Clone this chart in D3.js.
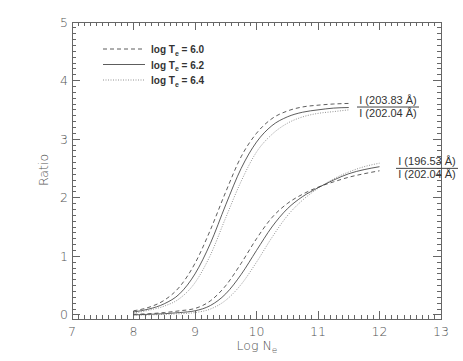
<!DOCTYPE html>
<html>
<head>
<meta charset="utf-8">
<script src="https://cdn.jsdelivr.net/npm/d3@7/dist/d3.min.js"></script>
<style>
  body { margin: 0; background: #fff; }
  text { font-family: "Liberation Sans", Arial, sans-serif; fill: #333; }
  .thin { font-family: "DejaVu Sans", sans-serif; font-weight: 200; fill: #555; }
</style>
</head>
<body>
<div id="chart"></div>
<script>
// DATA
const logNeUpper = [8.0, 8.25, 8.5, 8.75, 9.0, 9.25, 9.5, 9.75, 10.0, 10.25, 10.5, 10.75, 11.0, 11.25, 11.5];
const upperT60 = [0.07, 0.13, 0.25, 0.48, 0.88, 1.45, 2.10, 2.70, 3.10, 3.35, 3.48, 3.55, 3.58, 3.60, 3.61];
const upperT62 = [0.05, 0.10, 0.19, 0.36, 0.70, 1.22, 1.88, 2.50, 2.95, 3.23, 3.38, 3.46, 3.50, 3.53, 3.54];
const upperT64 = [0.03, 0.08, 0.15, 0.28, 0.55, 1.02, 1.66, 2.28, 2.78, 3.08, 3.27, 3.38, 3.44, 3.47, 3.50];

const logNeLower = [8.0, 8.25, 8.5, 8.75, 9.0, 9.25, 9.5, 9.75, 10.0, 10.25, 10.5, 10.75, 11.0, 11.25, 11.5, 11.75, 12.0];
const lowerT60 = [0.01, 0.02, 0.04, 0.07, 0.11, 0.24, 0.50, 0.88, 1.30, 1.66, 1.90, 2.06, 2.18, 2.27, 2.35, 2.41, 2.46];
const lowerT62 = [0.00, 0.01, 0.02, 0.04, 0.07, 0.16, 0.36, 0.69, 1.10, 1.50, 1.81, 2.02, 2.17, 2.30, 2.41, 2.48, 2.53];
const lowerT64 = [0.00, 0.00, 0.01, 0.02, 0.04, 0.10, 0.25, 0.52, 0.90, 1.32, 1.69, 1.96, 2.16, 2.32, 2.44, 2.53, 2.59];

const legendLabels = ["6.0", "6.2", "6.4"];
const xTicks = [7, 8, 9, 10, 11, 12, 13];
const yTicks = [0, 1, 2, 3, 4, 5];

//LAYOUT
const W = 463, H = 361;
const plot = { left: 72, right: 441, top: 22, bottom: 319 };
const lineStyles = [
  { dash: "4,3", width: 0.8, color: "#333" },
  { dash: null, width: 0.8, color: "#333" },
  { dash: "1,1.5", width: 0.8, color: "#777" }
];

const svg = d3.select("#chart").append("svg")
  .attr("width", W)
  .attr("height", H);

const x = d3.scaleLinear().domain([7, 13]).range([plot.left, plot.right]);
const y = d3.scaleLinear().domain([-0.07, 5]).range([plot.bottom, plot.top]);

// frame
svg.append("rect")
  .attr("x", plot.left).attr("y", plot.top)
  .attr("width", plot.right - plot.left)
  .attr("height", plot.bottom - plot.top)
  .attr("fill", "none")
  .attr("stroke", "#666")
  .attr("stroke-width", 1)
  .attr("shape-rendering", "crispEdges");

// ticks on all four sides
const tickColor = "#666";
const xMinor = d3.range(7, 13.001, 0.1);
const yMinor = d3.range(0, 5.001, 0.1);

function drawTicks(g, vals, major) {
  const len = major ? 8 : 4;
  g.selectAll(null).data(vals).enter().append("line")
    .attr("x1", d => x(d)).attr("x2", d => x(d))
    .attr("y1", plot.bottom).attr("y2", plot.bottom - len)
    .attr("stroke", tickColor);
  g.selectAll(null).data(vals).enter().append("line")
    .attr("x1", d => x(d)).attr("x2", d => x(d))
    .attr("y1", plot.top).attr("y2", plot.top + len)
    .attr("stroke", tickColor);
}
function drawYTicks(g, vals, major) {
  const len = major ? 8 : 4;
  g.selectAll(null).data(vals).enter().append("line")
    .attr("y1", d => y(d)).attr("y2", d => y(d))
    .attr("x1", plot.left).attr("x2", plot.left + len)
    .attr("stroke", tickColor);
  g.selectAll(null).data(vals).enter().append("line")
    .attr("y1", d => y(d)).attr("y2", d => y(d))
    .attr("x1", plot.right).attr("x2", plot.right - len)
    .attr("stroke", tickColor);
}
const tg = svg.append("g").attr("shape-rendering", "crispEdges");
drawTicks(tg, xMinor, false);
drawTicks(tg, xTicks, true);
drawYTicks(tg, yMinor, false);
drawYTicks(tg, yTicks, true);

// tick labels
svg.selectAll(".xl").data(xTicks).enter().append("text")
  .attr("class", "thin")
  .attr("x", d => x(d)).attr("y", plot.bottom + 17)
  .attr("text-anchor", "middle")
  .attr("font-size", 12.5)
  .text(d => d);
svg.selectAll(".yl").data(yTicks).enter().append("text")
  .attr("class", "thin")
  .attr("x", plot.left - 4).attr("y", d => y(d) + 4.5)
  .attr("text-anchor", "end")
  .attr("font-size", 12.5)
  .text(d => d);

// axis titles
const xt = svg.append("text")
  .attr("class", "thin")
  .attr("x", 257).attr("y", 350)
  .attr("text-anchor", "middle")
  .attr("font-size", 12.5);
xt.append("tspan").text("Log N");
xt.append("tspan").attr("dy", 3).attr("font-size", 9).text("e");

svg.append("text")
  .attr("class", "thin")
  .attr("transform", "translate(48,170) rotate(-90)")
  .attr("text-anchor", "middle")
  .attr("font-size", 12.5)
  .text("Ratio");

// curves
const line = d3.line().curve(d3.curveMonotoneX);
const groups = [
  { xs: logNeUpper, series: [upperT60, upperT62, upperT64] },
  { xs: logNeLower, series: [lowerT60, lowerT62, lowerT64] }
];
groups.forEach(gr => {
  gr.series.forEach((vals, i) => {
    const st = lineStyles[i];
    svg.append("path")
      .attr("d", line(vals.map((v, k) => [x(gr.xs[k]), y(v)])))
      .attr("fill", "none")
      .attr("stroke", st.color)
      .attr("stroke-width", st.width)
      .attr("stroke-dasharray", st.dash);
  });
});

// legend
legendLabels.forEach((lab, i) => {
  const ly = 49 + i * 15.5;
  const st = lineStyles[i];
  svg.append("line")
    .attr("x1", 103).attr("x2", 145)
    .attr("y1", ly).attr("y2", ly)
    .attr("stroke", st.color)
    .attr("stroke-width", st.width)
    .attr("stroke-dasharray", st.dash);
  const t = svg.append("text")
    .attr("x", 151).attr("y", ly + 4)
    .attr("font-size", 10)
    .attr("font-weight", "bold")
    .style("fill", "#333");
  t.append("tspan").text("log T");
  t.append("tspan").attr("dy", 2.5).attr("font-size", 7).text("e");
  t.append("tspan").attr("dy", -2.5).text(" = " + lab);
});

// ratio labels
function ratioLabel(cx, cy, num, den) {
  const g = svg.append("g");
  g.append("text").attr("x", cx).attr("y", cy - 3)
    .attr("text-anchor", "middle").attr("font-size", 11).text(num);
  g.append("line")
    .attr("x1", cx - 31).attr("x2", cx + 31)
    .attr("y1", cy).attr("y2", cy)
    .attr("stroke", "#444").attr("stroke-width", 1);
  g.append("text").attr("x", cx).attr("y", cy + 10)
    .attr("text-anchor", "middle").attr("font-size", 11).text(den);
}
ratioLabel(388, y(3.54) - 0.5, "I (203.83 Å)", "I (202.04 Å)");
ratioLabel(427, y(2.51) + 0.5, "I (196.53 Å)", "I (202.04 Å)");
</script>
</body>
</html>
